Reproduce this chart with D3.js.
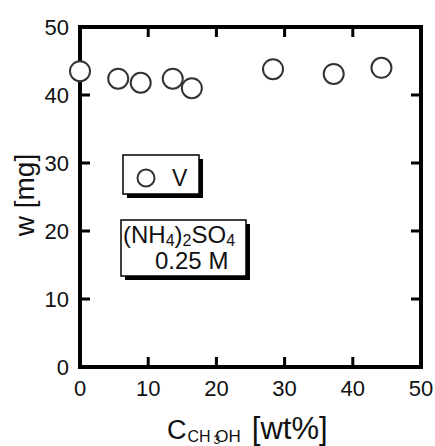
<!DOCTYPE html>
<html><head><meta charset="utf-8">
<script src="https://cdn.jsdelivr.net/npm/d3@7"></script>
<style>body{margin:0;background:#fff}svg{display:block;font-family:"Liberation Sans",Arial,sans-serif}</style>
</head><body><svg id="c" width="435" height="446"></svg>
<script>
const xVals = [0, 5.6, 8.9, 13.6, 16.4, 28.3, 37.2, 44.2];
const wVals = [43.5, 42.4, 41.8, 42.4, 41.0, 43.8, 43.1, 44.0];
const xTicks = [0, 10, 20, 30, 40, 50];
const yTicks = [0, 10, 20, 30, 40, 50];
const legendLabel = "V";

const svg = d3.select("#c");
const L = 80, R = 421, T = 27, B = 367;
const x = d3.scaleLinear().domain([0, 50]).range([L, R]);
const y = d3.scaleLinear().domain([0, 50]).range([B, T]);
const tl = 10;

// ticks (inward) on all sides
const tg = svg.append("g").attr("stroke", "#000").attr("stroke-width", 3);
xTicks.slice(1, -1).forEach(t => {
  tg.append("line").attr("x1", x(t)).attr("x2", x(t)).attr("y1", B).attr("y2", B - tl);
  tg.append("line").attr("x1", x(t)).attr("x2", x(t)).attr("y1", T).attr("y2", T + tl);
});
yTicks.slice(1, -1).forEach(t => {
  tg.append("line").attr("y1", y(t)).attr("y2", y(t)).attr("x1", L).attr("x2", L + tl);
  tg.append("line").attr("y1", y(t)).attr("y2", y(t)).attr("x1", R).attr("x2", R - tl);
});
svg.append("rect").attr("x", L).attr("y", T).attr("width", R - L).attr("height", B - T)
  .attr("fill", "none").attr("stroke", "#000").attr("stroke-width", 4);

// tick labels
svg.append("g").selectAll("text").data(xTicks).join("text")
  .attr("x", d => x(d)).attr("y", 396).attr("text-anchor", "middle")
  .attr("font-size", 22).attr("fill", "#111").text(d => d);
svg.append("g").selectAll("text").data(yTicks).join("text")
  .attr("x", 69).attr("y", d => y(d) + 8).attr("text-anchor", "end")
  .attr("font-size", 22).attr("fill", "#111").text(d => d);

// axis titles
svg.append("text").attr("transform", "translate(34,195) rotate(-90)")
  .attr("text-anchor", "middle").attr("font-size", 28).attr("fill", "#111").text("w [mg]");
const xl = svg.append("text").attr("x", 167).attr("y", 439).attr("font-size", 27).attr("fill", "#111");
xl.append("tspan").text("C");
xl.append("tspan").attr("font-size", 16).attr("dy", 3).attr("dx", 1).text("CH");
xl.append("tspan").attr("font-size", 12).attr("dy", 2).attr("dx", 3).text("3");
xl.append("tspan").attr("font-size", 17).attr("dy", -2).attr("dx", -5).text("OH");
xl.append("tspan").attr("font-size", 31).attr("dy", -3).attr("dx", 11).text("[wt%]");

// data
svg.append("g").selectAll("circle").data(xVals).join("circle")
  .attr("cx", d => x(d)).attr("cy", (d, i) => y(wVals[i])).attr("r", 10)
  .attr("fill", "#fff").attr("stroke", "#333").attr("stroke-width", 2);

// legend boxes with shadow
function box(x0, y0, w, h) {
  svg.append("rect").attr("x", x0 + 4).attr("y", y0 + 4).attr("width", w).attr("height", h).attr("fill", "#000");
  svg.append("rect").attr("x", x0).attr("y", y0).attr("width", w).attr("height", h)
    .attr("fill", "#fff").attr("stroke", "#000").attr("stroke-width", 1.5);
}
box(123, 155, 76, 39);
svg.append("circle").attr("cx", 146).attr("cy", 178).attr("r", 8.5)
  .attr("fill", "#fff").attr("stroke", "#333").attr("stroke-width", 2);
svg.append("text").attr("x", 172).attr("y", 186).attr("font-size", 23).attr("fill", "#111").text(legendLabel);

box(121, 220, 125, 56);
const t1 = svg.append("text").attr("x", 123).attr("y", 243).attr("font-size", 24).attr("fill", "#111");
t1.append("tspan").text("(NH");
t1.append("tspan").attr("font-size", 16).attr("dy", 3).text("4");
t1.append("tspan").attr("dy", -3).text(")");
t1.append("tspan").attr("font-size", 16).attr("dy", 3).text("2");
t1.append("tspan").attr("dy", -3).text("SO");
t1.append("tspan").attr("font-size", 16).attr("dy", 3).text("4");
svg.append("text").attr("x", 155).attr("y", 269).attr("font-size", 24).attr("fill", "#111").text("0.25 M");
</script></body></html>
